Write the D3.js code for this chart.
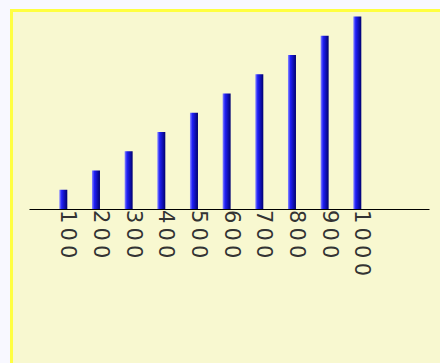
<!DOCTYPE html>
<html>
<head>
<meta charset="utf-8">
<script src="https://cdn.jsdelivr.net/npm/d3@7"></script>
<style>
  html, body { margin: 0; padding: 0; background: #f8f8ff; }
  svg { display: block; }
</style>
</head>
<body>
<div id="chart"></div>
<script>
const categories = ['100', '200', '300', '400', '500', '600', '700', '800', '900', '1000'];
const values = [100, 200, 300, 400, 500, 600, 700, 800, 900, 1000];

const width = 440;
const height = 363;

const svg = d3.select('#chart').append('svg')
  .attr('width', width)
  .attr('height', height);

const defs = svg.append('defs');
const grad = defs.append('linearGradient')
  .attr('id', 'barGrad')
  .attr('x1', '0').attr('x2', '1').attr('y1', '0').attr('y2', '0');
grad.append('stop').attr('offset', '0%').attr('stop-color', '#8c8cff');
grad.append('stop').attr('offset', '30%').attr('stop-color', '#2020f8');
grad.append('stop').attr('offset', '100%').attr('stop-color', '#000070');

// panel
svg.append('rect')
  .attr('x', 11.5).attr('y', 10.5)
  .attr('width', 460).attr('height', 380)
  .attr('fill', '#f8f8d0')
  .attr('stroke', '#ffff40')
  .attr('stroke-width', 3);

const x = d3.scalePoint()
  .domain(categories)
  .range([29, 429])
  .padding(1.6225)
  .align(0.3236);

const y = d3.scaleLinear()
  .domain([0, 1000])
  .range([209, 16.5]);

const barW = 8;

svg.selectAll('rect.bar')
  .data(values)
  .join('rect')
  .attr('class', 'bar')
  .attr('x', (d, i) => x(categories[i]) - barW / 2)
  .attr('y', d => y(d))
  .attr('width', barW)
  .attr('height', d => y(0) - y(d))
  .attr('fill', 'url(#barGrad)');

const axis = svg.append('g')
  .attr('transform', `translate(0,${y(0)})`)
  .call(d3.axisBottom(x).tickSize(0).tickSizeOuter(0).tickPadding(0));

axis.select('.domain').attr('stroke', '#000').attr('stroke-width', 1.2);
axis.selectAll('.tick text')
  .attr('transform', 'rotate(90)')
  .attr('text-anchor', 'start')
  .attr('x', 1)
  .attr('y', 2.5)
  .attr('dy', 0)
  .attr('fill', '#333')
  .style('font-family', 'DejaVu Sans')
  .style('font-size', '21px')
  .style('letter-spacing', '4.2px');
</script>
</body>
</html>
